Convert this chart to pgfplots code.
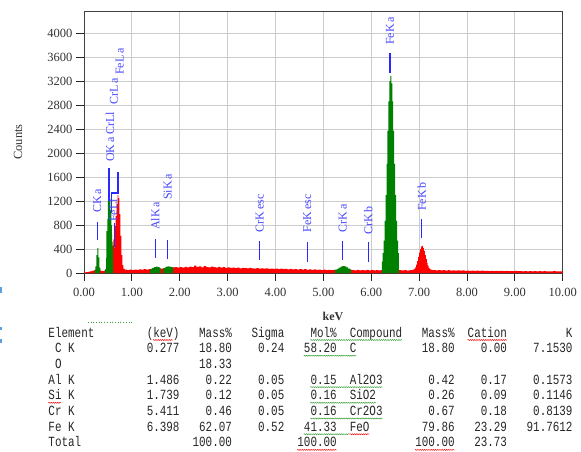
\documentclass[border=0pt]{standalone}
\usepackage{fontspec}
\setmainfont{Liberation Serif}
\setmonofont{Liberation Mono}
\usepackage{graphicx}
\usepackage{pgfplots}
\pgfplotsset{compat=1.18}
\usetikzlibrary{decorations.pathmorphing}
\definecolor{spred}{RGB}{255,0,0}
\definecolor{spgreen}{RGB}{0,128,0}
\definecolor{lblue}{RGB}{70,70,255}
\definecolor{mblue}{RGB}{40,40,255}
\definecolor{sqgreen}{RGB}{60,160,60}
\definecolor{edgeblue}{RGB}{90,160,225}
\newcommand\tabfont{\fontsize{14}{16}\selectfont\ttfamily}
\newcommand\cell[3]{\node[anchor=base west, inner sep=0pt, text=black!85, font=\tabfont] at ({-35.7pt+#1*6.55pt},{-64pt-#2*15.7pt}) {\scalebox{0.78}[1]{#3}};}
\newcommand\ul[4]{\draw[squig,#1] ({-35.7pt+#2*6.55pt},{-67pt-#4*15.7pt}) -- ({-35.7pt+#3*6.55pt},{-67pt-#4*15.7pt});}
\newcommand\mk[3]{\draw[mline] (axis cs:#1,#2) -- (axis cs:#1,#3);}
\newcommand\lb[3]{\node[lbl] at (axis cs:#1,#2) {#3};}
\tikzset{
  squig/.style={decorate, decoration={snake, amplitude=0.5pt, segment length=2.2pt}, line width=0.5pt},
  mline/.style={draw=mblue, line width=1.3pt},
  lbl/.style={rotate=90, anchor=west, inner sep=0pt, text=lblue, font=\fontsize{12}{14}\selectfont},
}
\begin{document}
\begin{tikzpicture}
\begin{axis}[
  at={(0,0)}, anchor=south west,
  scale only axis, width=478.7pt, height=262pt,
  xmin=0, xmax=10, ymin=0, ymax=4367,
  xtick={0,1,...,10}, ytick={0,400,...,4000},
  xtick pos=lower, ytick pos=left, tick align=outside, major tick length=8pt,
  grid=major, grid style={black!20, line width=0.9pt},
  axis line style={black!75, line width=0.8pt},
  tick style={black!85, line width=0.8pt},
  tick label style={font=\fontsize{12.5}{14}\selectfont, text=black!80},
  /pgf/number format/assume math mode=true,
  xticklabel style={yshift=-4pt, /pgf/number format/.cd, fixed, fixed zerofill, precision=2},
  yticklabel style={/pgf/number format/.cd, fixed, 1000 sep={}},
  scaled y ticks=false, scaled x ticks=false,
  xlabel={\textbf{keV}}, ylabel={Counts},
  xlabel style={at={(axis description cs:0.520,-0.164)}, anchor=center, font=\fontsize{12}{14}\selectfont, text=black!80},
  ylabel style={at={(axis description cs:-0.138,0.5)}, anchor=center, font=\fontsize{12.5}{14}\selectfont, text=black!80},
]
% red spectrum (background + Fe L and Fe Kb)
\addplot[const plot, fill=spred, draw=none] coordinates {
(0.00,12) (0.04,16) (0.08,20) (0.12,26) (0.16,34) (0.20,42) (0.22,48) (0.24,60) (0.26,75) (0.28,80) (0.30,68) (0.32,50) (0.34,38) (0.36,34) (0.38,30) (0.40,33) (0.42,40) (0.44,60) (0.46,120) (0.48,200) (0.50,260) (0.52,300) (0.54,330) (0.56,380) (0.58,430) (0.60,400) (0.61,560) (0.62,470) (0.63,420) (0.64,600) (0.65,780) (0.66,950) (0.68,1150) (0.70,1300) (0.72,1250) (0.74,980) (0.76,620) (0.78,300) (0.80,130) (0.82,72) (0.85,55) (0.90,48) (0.95,56) (1.00,50) (1.05,58) (1.10,54) (1.15,61) (1.20,55) (1.25,63) (1.30,58) (1.35,66) (1.40,70) (1.45,80) (1.50,85) (1.55,78) (1.60,72) (1.65,76) (1.70,80) (1.75,85) (1.80,88) (1.85,92) (1.90,96) (1.95,88) (2.00,99) (2.05,91) (2.10,102) (2.15,94) (2.20,106) (2.25,97) (2.30,124) (2.35,101) (2.40,110) (2.45,95) (2.50,114) (2.55,99) (2.60,94) (2.65,106) (2.70,97) (2.75,91) (2.80,103) (2.85,89) (2.90,96) (2.95,87) (3.00,93) (3.05,84) (3.10,91) (3.15,83) (3.20,89) (3.25,79) (3.30,87) (3.35,81) (3.40,77) (3.45,85) (3.50,79) (3.55,75) (3.60,83) (3.65,73) (3.70,78) (3.75,71) (3.80,77) (3.85,69) (3.90,75) (3.95,67) (4.00,73) (4.05,65) (4.10,71) (4.15,63) (4.20,69) (4.25,61) (4.30,67) (4.35,59) (4.40,65) (4.45,57) (4.50,63) (4.55,56) (4.60,64) (4.65,54) (4.70,61) (4.75,53) (4.80,59) (4.85,51) (4.90,57) (4.95,49) (5.00,55) (5.05,48) (5.10,54) (5.15,47) (5.20,53) (5.25,50) (5.30,60) (5.35,70) (5.40,75) (5.45,70) (5.50,60) (5.55,52) (5.60,48) (5.65,45) (5.70,51) (5.75,44) (5.80,49) (5.85,43) (5.90,51) (5.95,44) (6.00,47) (6.05,42) (6.10,47) (6.15,44) (6.20,48) (6.25,100) (6.40,200) (6.55,100) (6.58,50) (6.62,45) (6.66,42) (6.70,47) (6.74,40) (6.78,44) (6.82,46) (6.86,52) (6.88,60) (6.90,75) (6.92,100) (6.94,140) (6.96,200) (6.98,270) (7.00,340) (7.02,400) (7.04,440) (7.06,452) (7.08,420) (7.10,370) (7.12,300) (7.14,232) (7.16,170) (7.18,122) (7.20,86) (7.22,66) (7.24,55) (7.26,50) (7.30,48) (7.35,44) (7.40,49) (7.45,42) (7.50,47) (7.55,41) (7.60,46) (7.65,40) (7.70,44) (7.75,39) (7.80,45) (7.85,38) (7.90,42) (7.95,37) (8.00,41) (8.05,36) (8.10,40) (8.15,35) (8.20,40) (8.25,35) (8.30,38) (8.35,34) (8.40,37) (8.45,33) (8.50,37) (8.55,33) (8.60,35) (8.65,32) (8.70,37) (8.75,31) (8.80,34) (8.85,31) (8.90,33) (8.95,30) (9.00,35) (9.05,30) (9.10,32) (9.15,29) (9.20,33) (9.25,29) (9.30,31) (9.35,28) (9.40,32) (9.45,28) (9.50,30) (9.55,27) (9.60,31) (9.65,27) (9.70,29) (9.75,26) (9.80,30) (9.85,26) (9.90,28) (9.95,27) (10.00,27)
} \closedcycle;
% green peak areas
\addplot[const plot, fill=spgreen, draw=none] coordinates {
(0.22,45) (0.24,110) (0.26,300) (0.28,415) (0.30,260) (0.32,90) (0.34,0)
} \closedcycle;
\addplot[const plot, fill=spgreen, draw=none] coordinates {
(0.44,60) (0.46,250) (0.47,700) (0.49,900) (0.50,1200) (0.51,1480) (0.52,1500) (0.53,1300) (0.54,1230) (0.55,1050) (0.57,800) (0.58,650) (0.59,520) (0.60,450) (0.61,0)
} \closedcycle;
\addplot[const plot, fill=spgreen, draw=none] coordinates {
(1.38,62) (1.42,82) (1.46,100) (1.50,106) (1.54,96) (1.58,76) (1.60,0)
} \closedcycle;
\addplot[const plot, fill=spgreen, draw=none] coordinates {
(1.66,82) (1.70,102) (1.74,110) (1.78,108) (1.82,100) (1.86,0)
} \closedcycle;
\addplot[const plot, fill=spgreen, draw=none] coordinates {
(5.24,55) (5.28,70) (5.32,90) (5.36,105) (5.40,115) (5.44,110) (5.48,95) (5.52,75) (5.56,60) (5.58,0)
} \closedcycle;
\addplot[const plot, fill=spgreen, draw=none] coordinates {
(6.22,190) (6.24,330) (6.26,540) (6.28,870) (6.30,1300) (6.32,1820) (6.34,2370) (6.36,2860) (6.38,3200) (6.40,3280) (6.42,3160) (6.44,2860) (6.46,2370) (6.48,1820) (6.50,1300) (6.52,870) (6.54,540) (6.56,330) (6.58,0)
} \closedcycle;
% peak markers
\mk{0.277}{550}{850} \lb{0.277}{1000}{CK\,a}
\mk{0.525}{1200}{1750}
\lb{0.545}{1850}{OK\,a}
\lb{0.545}{2300}{CrLl}
\lb{0.625}{2800}{CrL\,a}
\lb{0.745}{3300}{FeL\,a}
\draw[mline] (axis cs:0.57,1000) -- (axis cs:0.57,1333) -- (axis cs:0.71,1333) -- (axis cs:0.71,1683);
\mk{0.633}{433}{833} \lb{0.61}{850}{FeLl}
\mk{1.498}{245}{567} \lb{1.49}{717}{AlK\,a}
\mk{1.748}{228}{550} \lb{1.748}{1217}{SiK\,a}
\mk{3.670}{217}{538} \lb{3.670}{678}{CrK\,esc}
\mk{4.665}{188}{512} \lb{4.665}{678}{FeK\,esc}
\mk{5.404}{217}{538} \lb{5.404}{678}{CrK\,a}
\mk{5.939}{178}{512} \lb{5.939}{633}{CrK\,b}
\mk{6.392}{3338}{3662} \lb{6.392}{3800}{FeK\,a}
\mk{7.055}{578}{900} \lb{7.055}{1033}{FeK\,b}
\end{axis}
% results table
\draw[sqgreen, dotted, line width=0.7pt] (4pt,-49pt) -- (49pt,-49pt);
\cell{0}{0}{Element} \cell{15}{0}{(keV)} \cell{23}{0}{Mass\%} \cell{31}{0}{Sigma} \cell{40}{0}{Mol\%} \cell{46}{0}{Compound} \cell{57}{0}{Mass\%} \cell{64}{0}{Cation} \cell{79}{0}{K}
\cell{1}{1}{C K} \cell{15}{1}{0.277} \cell{23}{1}{18.80} \cell{32}{1}{0.24} \cell{39}{1}{58.20} \cell{46}{1}{C} \cell{57}{1}{18.80} \cell{66}{1}{0.00} \cell{74}{1}{7.1530}
\cell{1}{2}{O} \cell{23}{2}{18.33}
\cell{0}{3}{Al K} \cell{15}{3}{1.486} \cell{24}{3}{0.22} \cell{32}{3}{0.05} \cell{40}{3}{0.15} \cell{46}{3}{Al2O3} \cell{58}{3}{0.42} \cell{66}{3}{0.17} \cell{74}{3}{0.1573}
\cell{0}{4}{Si K} \cell{15}{4}{1.739} \cell{24}{4}{0.12} \cell{32}{4}{0.05} \cell{40}{4}{0.16} \cell{46}{4}{SiO2} \cell{58}{4}{0.26} \cell{66}{4}{0.09} \cell{74}{4}{0.1146}
\cell{0}{5}{Cr K} \cell{15}{5}{5.411} \cell{24}{5}{0.46} \cell{32}{5}{0.05} \cell{40}{5}{0.16} \cell{46}{5}{Cr2O3} \cell{58}{5}{0.67} \cell{66}{5}{0.18} \cell{74}{5}{0.8139}
\cell{0}{6}{Fe K} \cell{15}{6}{6.398} \cell{23}{6}{62.07} \cell{32}{6}{0.52} \cell{39}{6}{41.33} \cell{46}{6}{FeO} \cell{57}{6}{79.86} \cell{65}{6}{23.29} \cell{73}{6}{91.7612}
\cell{0}{7}{Total} \cell{22}{7}{100.00} \cell{38}{7}{100.00} \cell{56}{7}{100.00} \cell{65}{7}{23.73}
\ul{red}{16}{19}{0} \ul{sqgreen}{40}{54}{0} \ul{red}{64}{70}{0}
\ul{sqgreen}{39}{47}{1}
\ul{sqgreen}{40}{51}{3}
\ul{red}{0}{2}{4} \ul{sqgreen}{40}{50}{4}
\ul{sqgreen}{40}{51}{5}
\ul{sqgreen}{39}{46}{6} \ul{red}{46}{49}{6}
\ul{red}{38}{44}{7} \ul{red}{56}{62}{7}
% cropped edge marks
\fill[edgeblue] (-84pt,-14pt) rectangle (-82pt,-20pt);
\fill[edgeblue] (-84pt,-54pt) rectangle (-82pt,-57pt);
\fill[edgeblue] (-84pt,-66pt) rectangle (-82pt,-70pt);
\pgfresetboundingbox
\path (-84pt,-178pt) rectangle (497pt,273pt);
\end{tikzpicture}
\end{document}
